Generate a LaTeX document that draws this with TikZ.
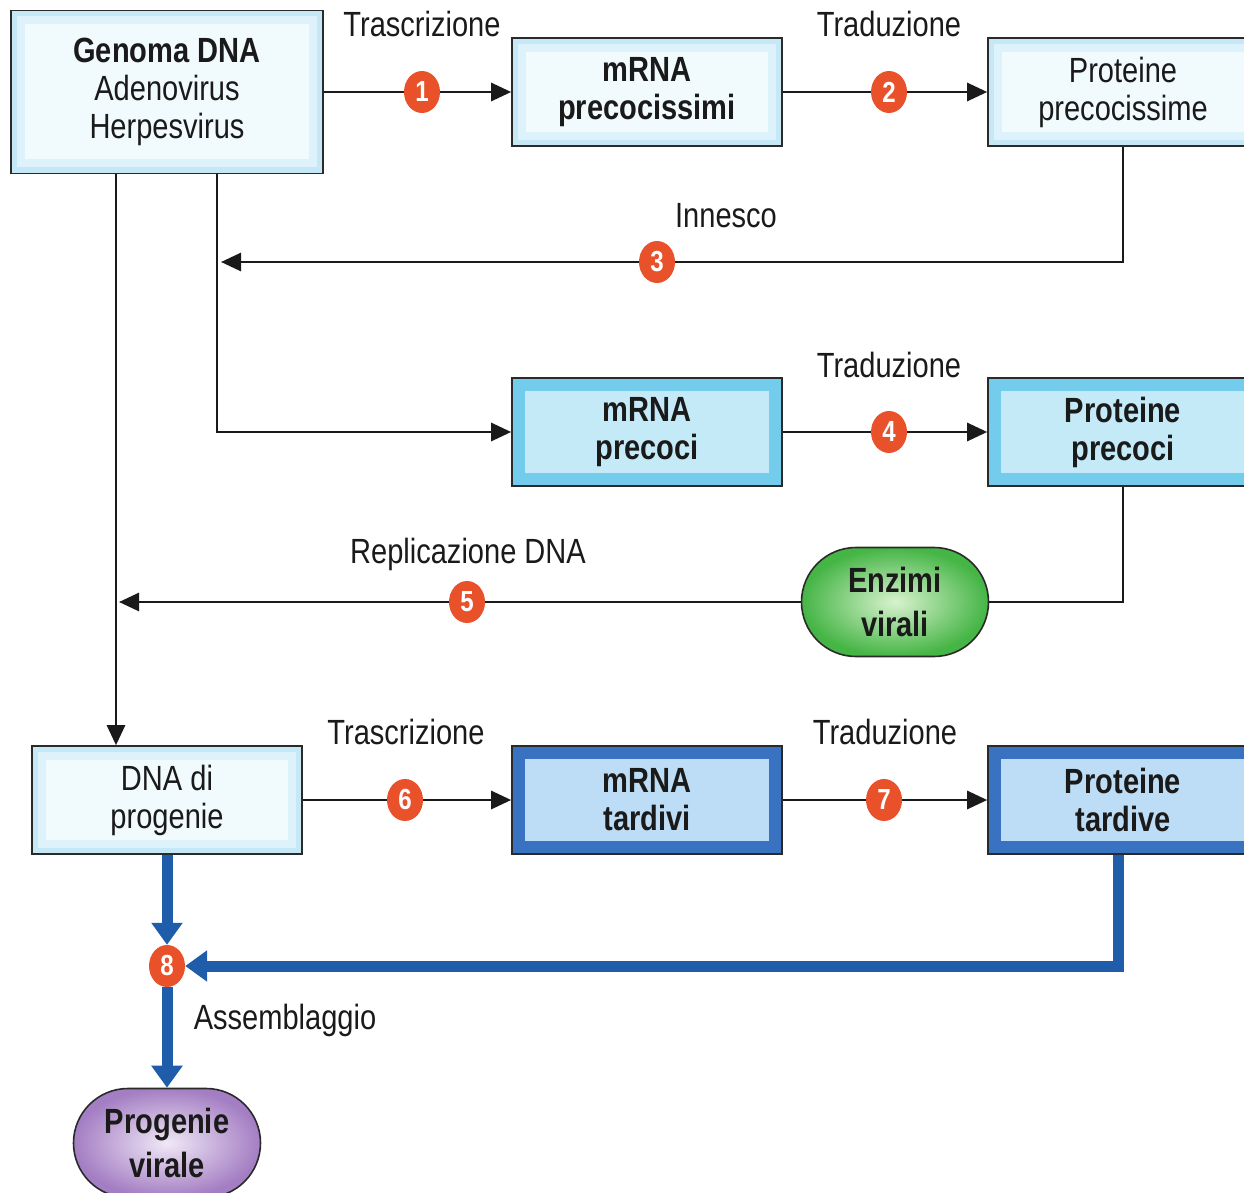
\documentclass[tikz,border=0pt]{standalone}
\usepackage{fontspec}
\setmainfont{Liberation Sans}[FakeStretch=0.83]
\usetikzlibrary{positioning, calc, arrows.meta, shapes.misc, shapes.geometric}

\definecolor{ink}{HTML}{1A1A1A}
\definecolor{boxline}{HTML}{2A2A2A}
\definecolor{stepred}{HTML}{E9512B}
\definecolor{iceA}{HTML}{C4E8F6}
\definecolor{iceM}{HTML}{DDF2FB}
\definecolor{iceB}{HTML}{F1FAFD}
\definecolor{midA}{HTML}{74CCEC}
\definecolor{midB}{HTML}{C4EAF8}
\definecolor{lateA}{HTML}{3A72C2}
\definecolor{lateB}{HTML}{BCDDF5}
\definecolor{enzA}{HTML}{45B545}
\definecolor{enzB}{HTML}{D8F2CF}
\definecolor{progA}{HTML}{A47EC3}
\definecolor{progB}{HTML}{F0E8F6}
\definecolor{flowblue}{HTML}{1F5CAA}

\newcommand{\boxfont}{\fontsize{35}{38}\selectfont}
\newcommand{\pillfont}{\fontsize{35}{44}\selectfont}
\newcommand{\stepfont}{\fontsize{29}{29}\selectfont}
\newcommand{\insetrect}[2]{\fill[#1] ([shift={(#2,#2)}]path picture bounding box.south west) rectangle ([shift={(-#2,-#2)}]path picture bounding box.north east);}

\tikzset{
    txt/.style={font=\boxfont, text=ink},
    box/.style={draw=boxline, line width=1.6pt, minimum width=270pt, minimum height=108pt, inner sep=0pt, align=center, txt},
    earlybox/.style={box, fill=iceA, path picture={\insetrect{iceM}{6pt}\insetrect{iceB}{14pt}}},
    midbox/.style={box, fill=midA, font=\boxfont\bfseries, path picture={\insetrect{midB}{13pt}}},
    latebox/.style={box, fill=lateA, font=\boxfont\bfseries, path picture={\insetrect{lateB}{13pt}}},
    pill/.style={rounded rectangle, draw=boxline, line width=1.6pt, minimum width=187pt, minimum height=109pt, inner sep=0pt, align=center, font=\pillfont\bfseries, text=ink},
    stepdot/.style={ellipse, fill=stepred, text=white, font=\stepfont\bfseries, minimum width=36pt, minimum height=42pt, inner sep=0pt},
    flow/.style={line width=2.8pt, draw=ink},
    arr/.style={flow, -{Triangle[length=20pt,width=18pt]}},
    bigflow/.style={line width=11pt, draw=flowblue, -{Triangle[length=22pt,width=30pt]}},
    lbl/.style={txt, anchor=base, inner sep=0pt}
}

\begin{document}
\begin{tikzpicture}[x=1pt, y=-1pt]
\useasboundingbox (0,0) rectangle (1244,1193);
\clip (0,0) rectangle (1244,1193);

% boxes
\node[earlybox, minimum width=312pt, minimum height=163pt] (genoma) at (167,92) {\textbf{Genoma DNA}\\Adenovirus\\Herpesvirus};
\node[earlybox, font=\boxfont\bfseries] (mrnaA) at (647,92) {mRNA\\precocissimi};
\node[earlybox] (protA) at (1123,92) {Proteine\\precocissime};

\node[midbox] (mrnaB) at (647,432) {mRNA\\precoci};
\node[midbox] (protB) at (1123,432) {Proteine\\precoci};
\node[pill, inner color=enzB, outer color=enzA] (enz) at (895,602) {Enzimi\\virali};

\node[earlybox] (dnap) at (167,800) {DNA di\\progenie};
\node[latebox] (mrnaC) at (647,800) {mRNA\\tardivi};
\node[latebox] (protC) at (1123,800) {Proteine\\tardive};

\node[pill, inner color=progB, outer color=progA] (prog) at (167,1143) {Progenie\\virale};

% steps
\node[stepdot] (s1) at (422,92) {1};
\node[stepdot] (s2) at (889,92) {2};
\node[stepdot] (s3) at (657,262) {3};
\node[stepdot] (s4) at (889,432) {4};
\node[stepdot] (s5) at (467,602) {5};
\node[stepdot] (s6) at (405,800) {6};
\node[stepdot] (s7) at (884,800) {7};
\node[stepdot] (s8) at (167,966) {8};

\coordinate (c3) at (221,262);
\coordinate (c5) at (119,602);

% labels
\node[lbl] (t1) at (422,37) {Trascrizione};
\node[lbl] (t2) at (889,37) {Traduzione};
\node[lbl] (t3) at (726,227) {Innesco};
\node[lbl] (t4) at (889,377) {Traduzione};
\node[lbl] (t5) at (468,563) {Replicazione DNA};
\node[lbl] (t6) at (406,744) {Trascrizione};
\node[lbl] (t7) at (885,744) {Traduzione};
\node[lbl] (t8) at (285,1029) {Assemblaggio};

% connectors
\draw[flow] (genoma) -- (s1);
\draw[arr] (s1) -- (mrnaA);
\draw[flow] (mrnaA) -- (s2);
\draw[arr] (s2) -- (protA);
\draw[flow] (protA.south) |- (s3);
\draw[arr] (s3) -- (c3);
\draw[arr] ([xshift=-51pt]genoma.south) -- ([xshift=-51pt]dnap.north);
\draw[arr] ([xshift=50pt]genoma.south) |- (mrnaB.west);
\draw[flow] (mrnaB) -- (s4);
\draw[arr] (s4) -- (protB);
\draw[flow] (protB.south) |- (enz.east);
\draw[flow] (enz) -- (s5);
\draw[arr] (s5) -- (c5);
\draw[flow] (dnap) -- (s6);
\draw[arr] (s6) -- (mrnaC);
\draw[flow] (mrnaC) -- (s7);
\draw[arr] (s7) -- (protC);

\draw[bigflow] (dnap.south) -- (s8);
\draw[bigflow] ([xshift=-5pt]protC.south) |- (s8);
\draw[bigflow] (s8) -- (prog);

\end{tikzpicture}
\end{document}
